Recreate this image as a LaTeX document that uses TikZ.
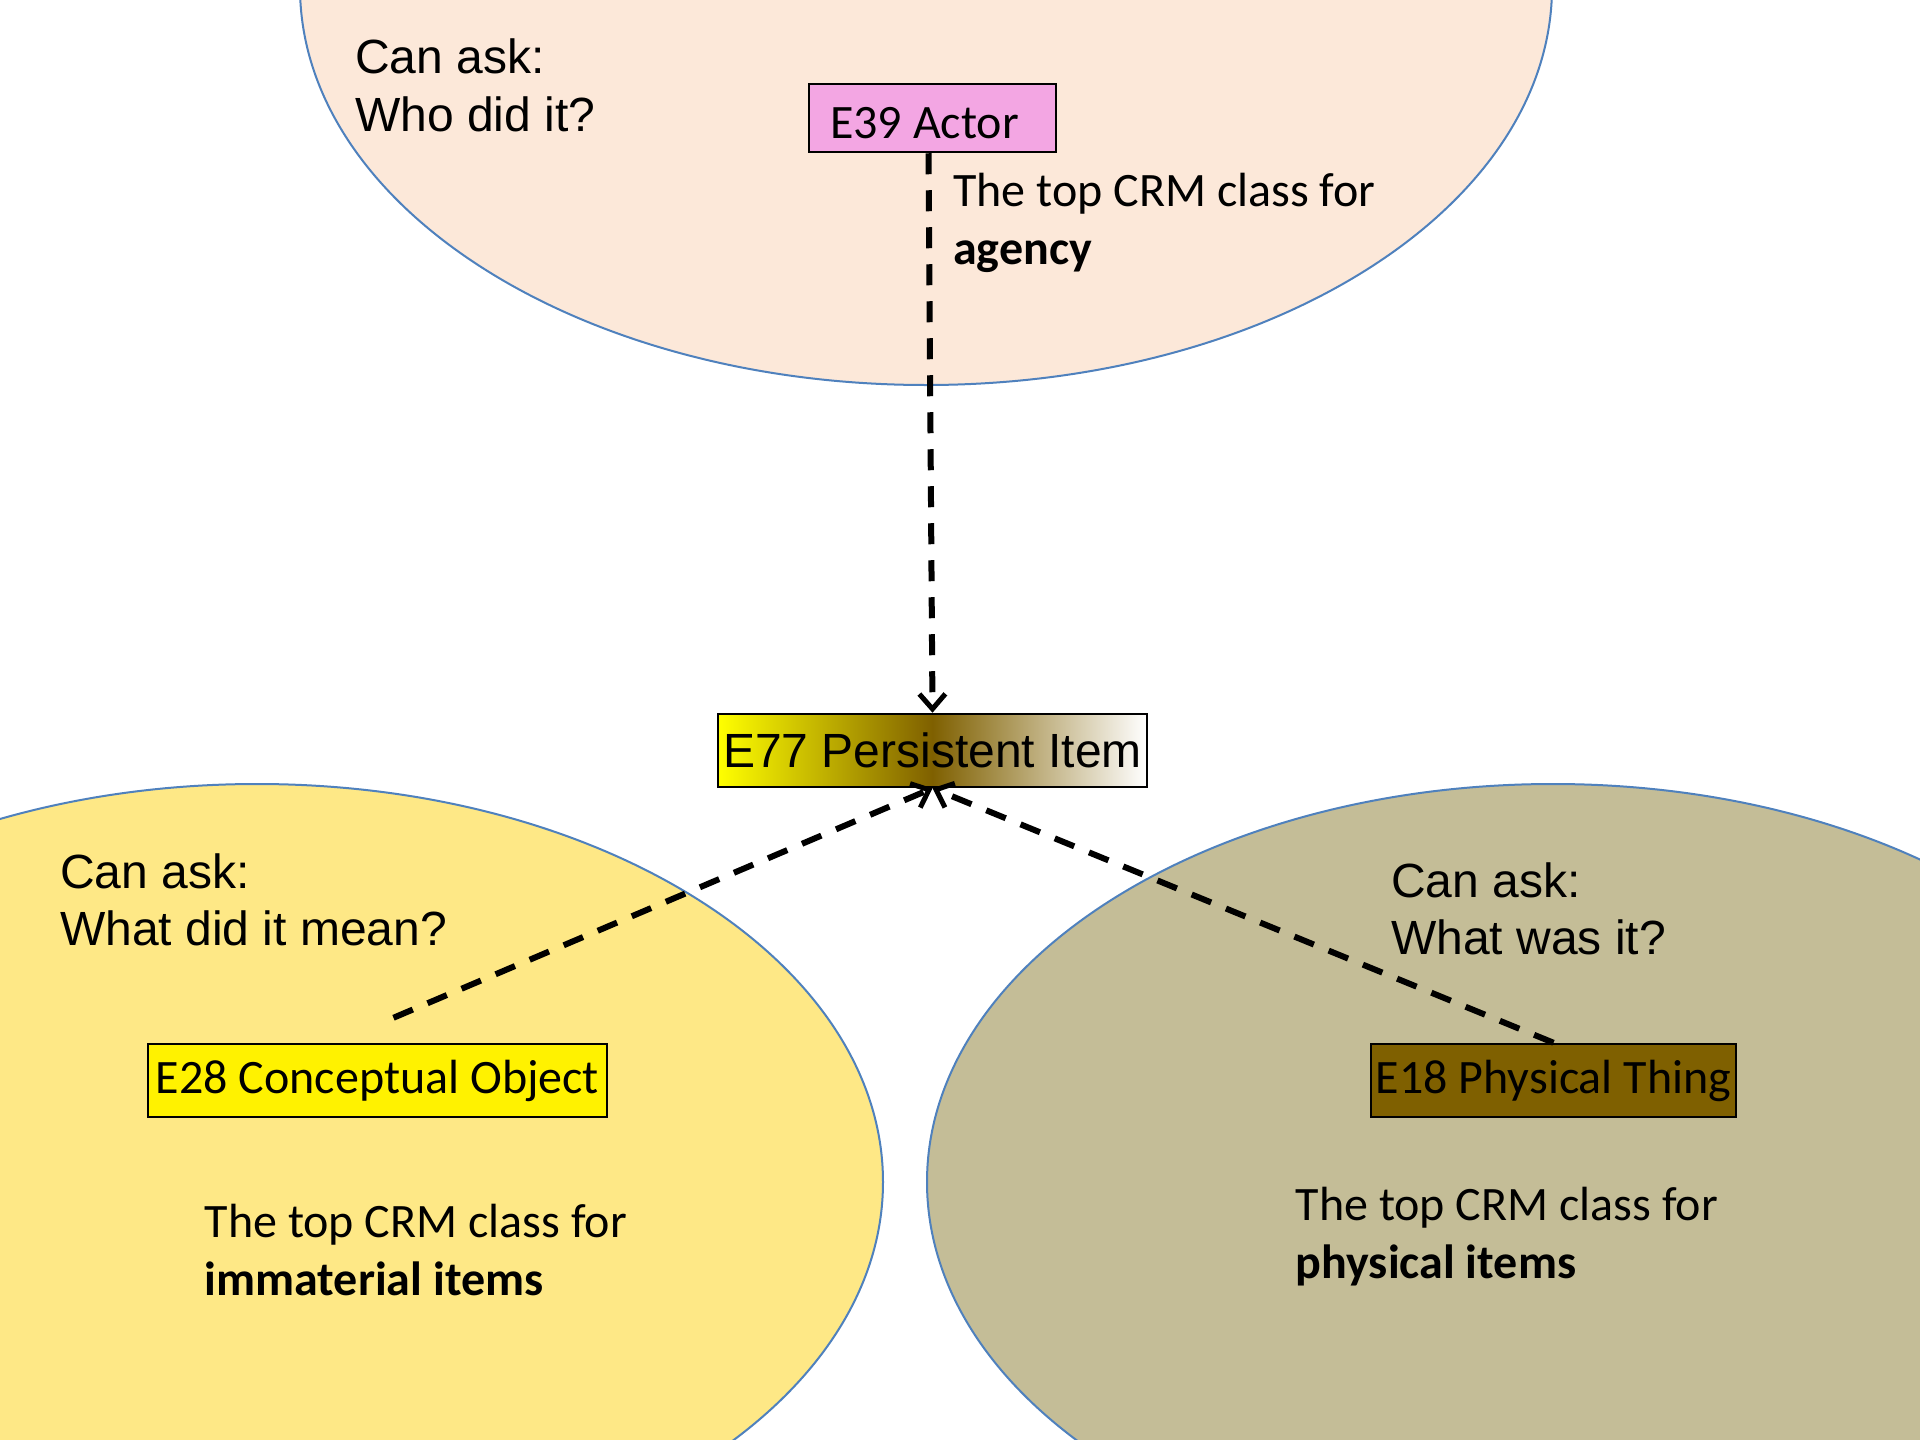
\documentclass[tikz,border=0pt]{standalone}
\usepackage{fontspec}
\setmainfont{Carlito}
\newfontfamily\arialf{Liberation Sans}
\newfontfamily\calf{Carlito}
\usetikzlibrary{arrows.meta,calc}
\definecolor{peach}{HTML}{FCE8D9}
\definecolor{paleyellow}{HTML}{FEE886}
\definecolor{tan}{HTML}{C4BD97}
\definecolor{edgeblue}{HTML}{4F81BD}
\definecolor{actorpink}{HTML}{F3A6E3}
\definecolor{physbrown}{HTML}{7F6000}
\tikzset{
  zone/.style={draw=edgeblue, line width=2pt},
  classbox/.style={draw=black, line width=2.5pt, inner sep=0pt, minimum height=73pt,
    font=\calf\fontsize{48}{58}\selectfont},
  asktext/.style={anchor=base west, inner sep=0pt, font=\arialf\fontsize{48}{58}\selectfont},
  bodytext/.style={anchor=base west, inner sep=0pt, font=\calf\fontsize{48}{58}\selectfont},
  isa/.style={draw=black, line width=6pt, dash pattern=on 21pt off 16pt,
    -{Straight Barb[length=15pt,width=26pt,line width=5pt]}}
}
\begin{document}
\begin{tikzpicture}[x=1pt,y=-1pt]
\path[use as bounding box, fill=white] (0,0) rectangle (1920,1440);
\begin{scope}
\clip (0,0) rectangle (1920,1440);
\path[zone, fill=peach] (926,-13) ellipse [x radius=626pt, y radius=398pt];
\path[zone, fill=paleyellow] (257,1182) ellipse [x radius=626pt, y radius=398pt];
\path[zone, fill=tan] (1553,1182) ellipse [x radius=626pt, y radius=398pt];
\end{scope}

% texts
\node[asktext] (tq1) at (355,73.5) {Can ask:};
\node[asktext] (tq2) at (355,131) {Who did it?};
\node[bodytext] (tb1) at (953,206) {The top CRM class for};
\node[bodytext] (tb2) at (953,264) {\bfseries agency};

\node[asktext] (lq1) at (60,888) {Can ask:};
\node[asktext] (lq2) at (60,945) {What did it mean?};
\node[bodytext] (lb1) at (204.5,1237) {The top CRM class for};
\node[bodytext] (lb2) at (204.5,1295) {\bfseries immaterial items};

\node[asktext] (rq1) at (1391,897) {Can ask:};
\node[asktext] (rq2) at (1391,954) {What was it?};
\node[bodytext] (rb1) at (1295.5,1220) {The top CRM class for};
\node[bodytext] (rb2) at (1295.5,1278) {\bfseries physical items};

% class boxes
\node[classbox, fill=actorpink, minimum width=247pt, minimum height=68pt,
      text height=40pt, text depth=0pt] (E39) at (932.5,118) {E39 Actor\hspace*{16pt}};
\node[classbox, left color=yellow, right color=white, middle color=physbrown,
      minimum width=429pt, font=\arialf\fontsize{48}{58}\selectfont] (E77) at (932.5,750.5) {E77 Persistent Item};
\node[classbox, fill=yellow, minimum width=459pt] (E28) at (377.5,1080.5) {E28 Conceptual Object};
\node[classbox, fill=physbrown, minimum width=365pt] (E18) at (1553.5,1080.5) {E18 Physical Thing};

% connectors
\draw[isa] ($(E39.south)+(-4,0)$) -- (E77.north);
\draw[isa] ($(E28.north)+(16,-25)$) -- (E77.south);
\draw[isa] (E18.north) -- (E77.south);
\end{tikzpicture}
\end{document}
